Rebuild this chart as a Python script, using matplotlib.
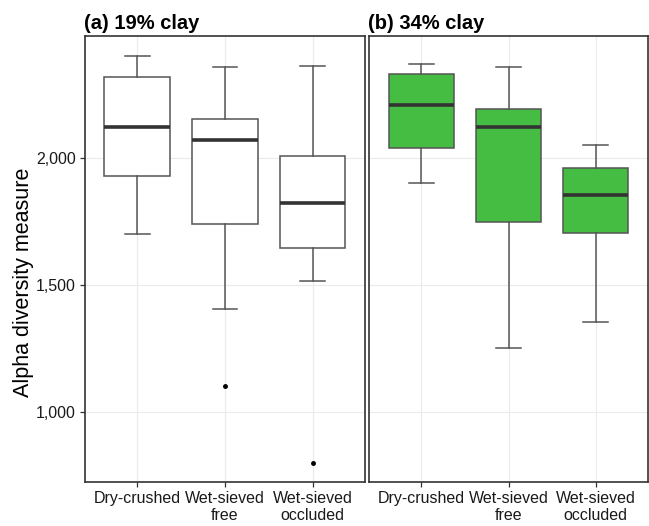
import matplotlib
matplotlib.use("Agg")
import matplotlib.pyplot as plt
from matplotlib.ticker import FuncFormatter

plt.rcParams['font.family'] = ['Liberation Sans', 'DejaVu Sans']

categories = ["Dry-crushed", "Wet-sieved\nfree", "Wet-sieved\noccluded"]
panel_titles = ["(a) 19% clay", "(b) 34% clay"]
panel_colors = ["#FFFFFF", "#45BC42"]

# per panel: whisker low, Q1, median, Q3, whisker high
clay19_whislo = [1700, 1404, 1516]
clay19_q1 = [1928, 1739, 1645]
clay19_med = [2122, 2070, 1823]
clay19_q3 = [2319, 2151, 2008]
clay19_whishi = [2400, 2356, 2362]
clay19_fliers = [[], [1102], [798]]

clay34_whislo = [1902, 1250, 1354]
clay34_q1 = [2039, 1748, 1702]
clay34_med = [2207, 2120, 1852]
clay34_q3 = [2331, 2192, 1958]
clay34_whishi = [2369, 2358, 2050]
clay34_fliers = [[], [], []]

yticks = [1000, 1500, 2000]

panels = [
    (clay19_whislo, clay19_q1, clay19_med, clay19_q3, clay19_whishi, clay19_fliers),
    (clay34_whislo, clay34_q1, clay34_med, clay34_q3, clay34_whishi, clay34_fliers),
]

fig = plt.figure(figsize=(6.49, 5.26), dpi=100)
bottom = 1 - 482.3 / 526
height = (482.3 - 35.7) / 526
axes = [fig.add_axes([84.7 / 649, bottom, 280.5 / 649, height]),
        fig.add_axes([369.0 / 649, bottom, 279.0 / 649, height])]

edge = "#555555"
for i, (ax, data) in enumerate(zip(axes, panels)):
    wlo, q1, med, q3, whi, fl = data
    stats = []
    for j in range(3):
        stats.append(dict(whislo=wlo[j], q1=q1[j], med=med[j], q3=q3[j],
                          whishi=whi[j], fliers=fl[j], label=categories[j]))
    ax.bxp(stats, positions=[1, 2, 3], widths=0.75, patch_artist=True,
           showfliers=True,
           boxprops=dict(facecolor=panel_colors[i], edgecolor=edge, linewidth=1.1),
           medianprops=dict(color="#333333", linewidth=2.6, solid_capstyle='butt'),
           whiskerprops=dict(color=edge, linewidth=1.1),
           capprops=dict(color=edge, linewidth=1.1),
           capwidths=0.28,
           flierprops=dict(marker='o', markersize=2.5, markerfacecolor='black',
                           markeredgecolor='black'))
    ax.set_xlim(0.4, 3.6)
    ax.set_ylim(722, 2480)
    ax.set_yticks(yticks)
    ax.grid(True, color="#EBEBEB", linewidth=0.8)
    ax.set_axisbelow(True)
    for s in ax.spines.values():
        s.set_color("#333333")
        s.set_linewidth(1.2)
    ax.tick_params(axis='both', colors="#333333", length=3.5, width=0.9,
                   labelsize=11.5, labelcolor="#1A1A1A", pad=3)
    ax.set_xticks([1, 2, 3])
    ax.set_xticklabels(categories, linespacing=1.15)
    ax.set_title(panel_titles[i], loc='left', fontsize=14.5, fontweight='bold',
                 pad=5, x=-0.003)
    if i == 0:
        ax.yaxis.set_major_formatter(FuncFormatter(lambda v, p: f"{int(v):,}"))
        ax.set_ylabel("Alpha diversity measure", fontsize=15.5, labelpad=6)
        ax.yaxis.set_label_coords(-0.182, 0.4485)
    else:
        ax.tick_params(axis='y', left=False, labelleft=False)

fig.savefig("out.png", dpi=100)
